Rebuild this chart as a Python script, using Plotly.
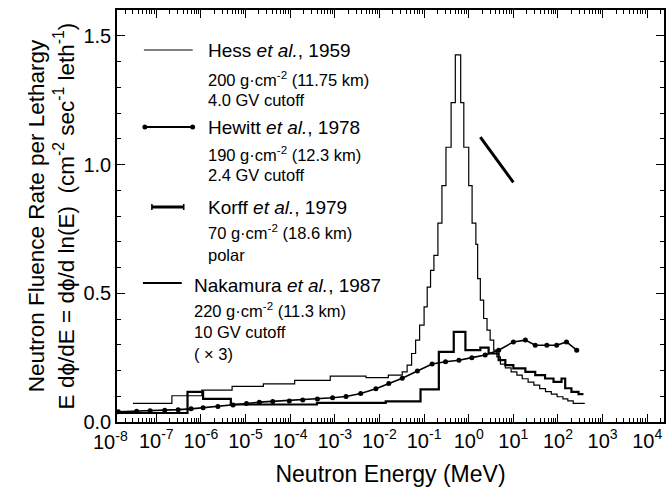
import plotly.graph_objects as go

# ---------------- data (energies in MeV) ----------------
hess_edges = [3.0e-8, 2.24e-7, 1.05e-6, 5.0e-6, 2.51e-5, 1.26e-4, 7.9e-4, 5.0e-3, 1.58e-2,
              3.24e-2, 4.17e-2, 5.25e-2, 6.46e-2, 7.94e-2, 0.1, 0.1175, 0.1396, 0.166, 0.204,
              0.251, 0.309, 0.403, 0.501, 0.661, 0.776, 1.0, 1.19, 1.445, 1.585, 1.82, 2.16,
              2.57, 3.02, 3.63, 4.27, 5.13, 6.61, 8.91, 12.0, 15.8, 21.4, 28.8, 38.9, 52.5,
              70.8, 95.5, 129.0, 166.0, 219.0, 398.0]
hess_flux = [0.072, 0.102, 0.124, 0.138, 0.148, 0.162, 0.178, 0.172, 0.182, 0.195, 0.221,
             0.266, 0.318, 0.376, 0.447, 0.524, 0.589, 0.647, 0.772, 0.918, 1.067, 1.24,
             1.426, 1.24, 1.067, 0.918, 0.772, 0.69, 0.557, 0.473, 0.402, 0.357, 0.318,
             0.279, 0.253, 0.225, 0.21, 0.195, 0.182, 0.168, 0.155, 0.143, 0.13, 0.118,
             0.108, 0.098, 0.09, 0.082, 0.072]

hewitt_E = [1.41e-8, 3.63e-8, 7.24e-8, 1.55e-7, 3.09e-7, 6.03e-7, 1.12e-6, 2.40e-6, 5.25e-6,
            1.05e-5, 2.04e-5, 4.07e-5, 9.55e-5, 1.91e-4, 4.07e-4, 8.91e-4, 1.78e-3, 3.80e-3,
            8.32e-3, 1.62e-2, 3.24e-2, 7.08e-2, 0.151, 0.302, 0.603, 1.175, 2.34, 4.68, 10.0,
            18.6, 30.9, 56.2, 93.3, 155.0, 263.0]
hewitt_flux = [0.040, 0.042, 0.044, 0.046, 0.048, 0.051, 0.055, 0.060, 0.066, 0.072, 0.077,
               0.080, 0.082, 0.085, 0.089, 0.094, 0.099, 0.111, 0.129, 0.150, 0.170, 0.198,
               0.225, 0.234, 0.240, 0.250, 0.260, 0.279, 0.311, 0.318, 0.298, 0.298, 0.298,
               0.311, 0.279]

korff_E = [1.82, 10.0]
korff_flux = [1.106, 0.931]

nakamura_edges = [1.32e-8, 5.01e-7, 1.12e-6, 4.68e-6, 3.98e-4, 1.38e-2, 8.32e-2, 0.214, 0.462,
                  0.843, 1.82, 2.79, 4.68, 6.61, 10.0, 18.6, 30.9, 51.3, 79.4, 120.0, 145.0,
                  200.0, 288.0, 372.0]
nakamura_flux = [0.035, 0.117, 0.09, 0.068, 0.074, 0.08, 0.127, 0.272, 0.35, 0.279, 0.289,
                 0.266, 0.24, 0.221, 0.208, 0.195, 0.182, 0.169, 0.156, 0.169, 0.131, 0.117,
                 0.108]

x_tick_vals = [1e-8, 1e-7, 1e-6, 1e-5, 1e-4, 1e-3, 1e-2, 1e-1, 1e0, 1e1, 1e2, 1e3, 1e4]
x_tick_text = ["10<sup>-8</sup>", "10<sup>-7</sup>", "10<sup>-6</sup>", "10<sup>-5</sup>",
               "10<sup>-4</sup>", "10<sup>-3</sup>", "10<sup>-2</sup>", "10<sup>-1</sup>",
               "10<sup>0</sup>", "10<sup>1</sup>", "10<sup>2</sup>", "10<sup>3</sup>",
               "10<sup>4</sup>"]
y_tick_vals = [0.0, 0.5, 1.0, 1.5]
y_tick_text = ["0.0", "0.5", "1.0", "1.5"]

legend_entries = [
    ["Hess <i>et al.</i>, 1959", "200 g·cm<sup>-2</sup> (11.75 km)", "4.0 GV cutoff"],
    ["Hewitt <i>et al.</i>, 1978", "190 g·cm<sup>-2</sup> (12.3 km)", "2.4 GV cutoff"],
    ["Korff <i>et al.</i>, 1979", "70 g·cm<sup>-2</sup> (18.6 km)", "polar"],
    ["Nakamura <i>et al.</i>, 1987", "220 g·cm<sup>-2</sup> (11.3 km)", "10 GV cutoff", "( × 3)"],
]

# ---------------- figure ----------------
W, H = 667, 489
ML, MR, MT, MB = 117, 1, 10, 67
FONT = "Liberation Sans, Arial, Helvetica, sans-serif"


def pxx(px):
    return (px - ML) / (W - ML - MR)


def pxy(py):
    return (H - MB - py) / (H - MT - MB)


minor_x = [m * v for v in x_tick_vals for m in range(2, 10)]

fig = go.Figure()
fig.add_trace(go.Scatter(x=hess_edges, y=hess_flux + [hess_flux[-1]], mode="lines",
                         line=dict(color="black", width=1.2, shape="hv"), name="Hess"))
fig.add_trace(go.Scatter(x=nakamura_edges, y=nakamura_flux + [nakamura_flux[-1]], mode="lines",
                         line=dict(color="black", width=2.2, shape="hv"), name="Nakamura"))
fig.add_trace(go.Scatter(x=hewitt_E, y=hewitt_flux, mode="lines+markers",
                         line=dict(color="black", width=1.6),
                         marker=dict(color="black", size=5), name="Hewitt"))
fig.add_trace(go.Scatter(x=korff_E, y=korff_flux, mode="lines",
                         line=dict(color="black", width=3), name="Korff"))

axis_common = dict(showline=True, linecolor="black", linewidth=1.5, mirror="allticks",
                   ticks="inside", tickcolor="black", tickwidth=1.3, showgrid=False,
                   zeroline=False, tickfont=dict(family=FONT, size=20, color="black"))

fig.update_xaxes(type="log", range=[-7.88, 4.375], tickmode="array",
                 tickvals=x_tick_vals[1:], ticktext=x_tick_text[1:], ticklen=8,
                 minor=dict(ticks="inside", ticklen=4, tickmode="array", tickvals=minor_x,
                            tickcolor="black", tickwidth=1, showgrid=False),
                 title=dict(text="Neutron Energy (MeV)", font=dict(family=FONT, size=23,
                                                                   color="black"), standoff=15),
                 **axis_common)
fig.update_yaxes(range=[0, 1.6], tickmode="array", tickvals=y_tick_vals, ticktext=y_tick_text,
                 ticklen=8,
                 minor=dict(ticks="inside", ticklen=4, dtick=0.1, tickcolor="black",
                            tickwidth=1, showgrid=False),
                 title=dict(text="Neutron Fluence Rate per Lethargy<br>E dϕ/dE = dϕ/d ln(E)"
                                 "\u00a0\u00a0(cm<sup>-2</sup> sec<sup>-1</sup> leth<sup>-1</sup>)",
                            font=dict(family=FONT, size=22.5, color="black"), standoff=3),
                 **axis_common)

annotations = []
# first tick label (its tick lies just left of the plotted range)
annotations.append(dict(x=pxx(110), y=pxy(440), xref="paper", yref="paper",
                        text=x_tick_text[0], showarrow=False, xanchor="center",
                        yanchor="middle", font=dict(family=FONT, size=20, color="black")))

# legend text
legend_layout = [
    (207, [51, 79, 100]),
    (207, [127, 154, 175]),
    (207, [207, 232, 255]),
    (193, [286, 310, 332, 354]),
]
for (tx, ys), lines in zip(legend_layout, legend_entries):
    for i, (ty, txt) in enumerate(zip(ys, lines)):
        annotations.append(dict(x=pxx(tx), y=pxy(ty), xref="paper", yref="paper", text=txt,
                                showarrow=False, xanchor="left", yanchor="middle",
                                borderpad=0,
                                font=dict(family=FONT, size=19 if i == 0 else 16.5,
                                          color="black")))

shapes = []
# legend samples
shapes.append(dict(type="line", xref="paper", yref="paper", x0=pxx(144), x1=pxx(193),
                   y0=pxy(50), y1=pxy(50), line=dict(color="black", width=1.2)))
shapes.append(dict(type="line", xref="paper", yref="paper", x0=pxx(145), x1=pxx(193),
                   y0=pxy(127), y1=pxy(127), line=dict(color="black", width=1.8)))
for cx in (145, 193):
    shapes.append(dict(type="circle", xref="paper", yref="paper", x0=pxx(cx - 2.5),
                       x1=pxx(cx + 2.5), y0=pxy(127 + 2.5), y1=pxy(127 - 2.5),
                       fillcolor="black", line=dict(color="black", width=0)))
shapes.append(dict(type="line", xref="paper", yref="paper", x0=pxx(152), x1=pxx(184),
                   y0=pxy(207), y1=pxy(207), line=dict(color="black", width=3)))
for cx in (152, 184):
    shapes.append(dict(type="line", xref="paper", yref="paper", x0=pxx(cx), x1=pxx(cx),
                       y0=pxy(204), y1=pxy(210), line=dict(color="black", width=1.5)))
shapes.append(dict(type="line", xref="paper", yref="paper", x0=pxx(143), x1=pxx(182),
                   y0=pxy(283), y1=pxy(283), line=dict(color="black", width=2.2)))

fig.update_layout(width=W, height=H, margin=dict(l=ML, r=MR, t=MT, b=MB),
                  paper_bgcolor="white", plot_bgcolor="white", showlegend=False,
                  annotations=annotations, shapes=shapes,
                  font=dict(family=FONT, color="black"))

fig.write_html("out.html")
